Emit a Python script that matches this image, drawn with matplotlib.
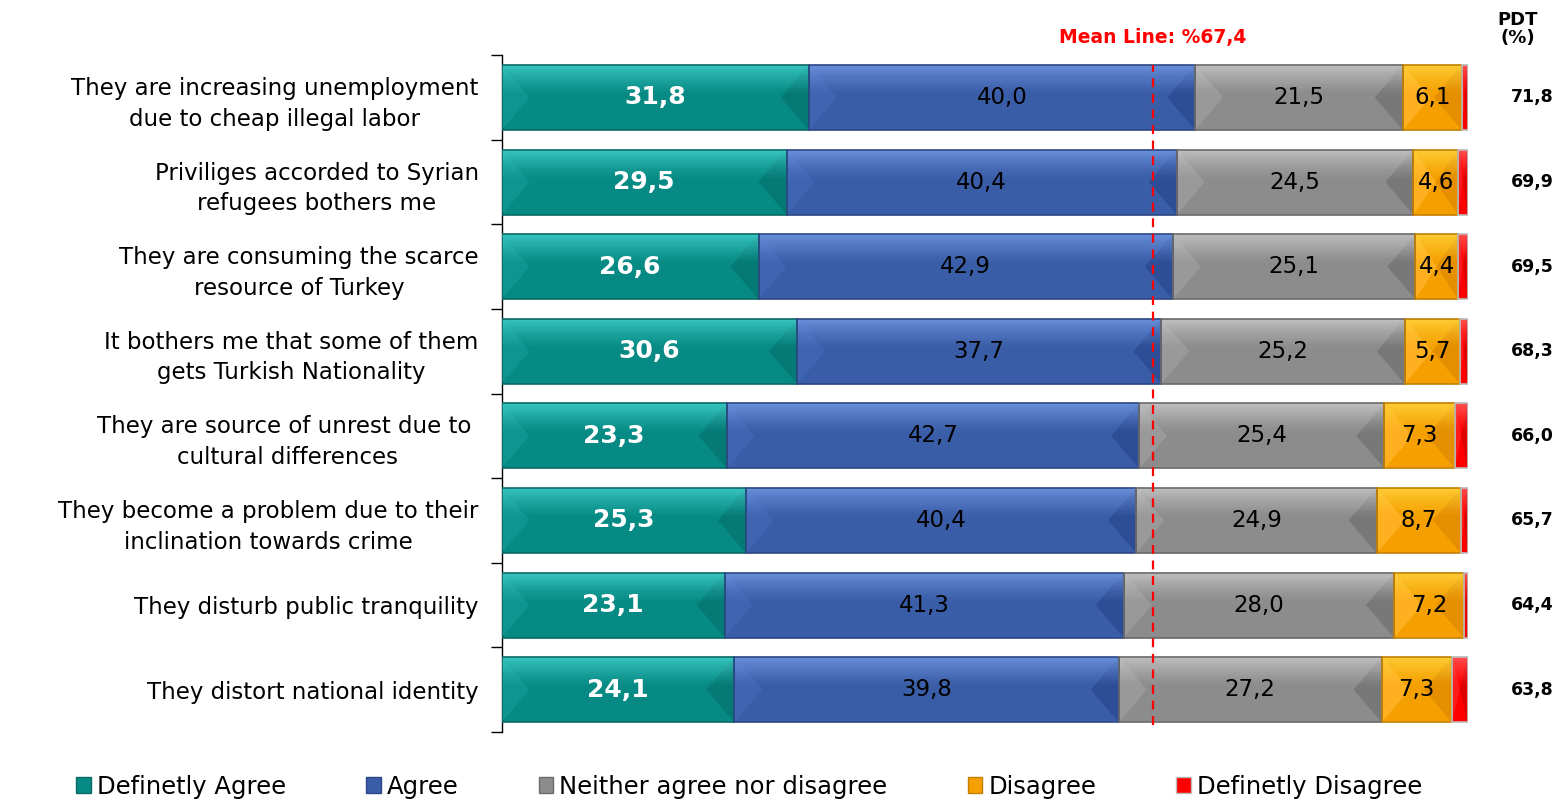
import numpy as np
import matplotlib.pyplot as plt
from matplotlib.patches import Polygon, Patch
from matplotlib.transforms import blended_transform_factory

statements = [
    "They are increasing unemployment\ndue to cheap illegal labor",
    "Priviliges accorded to Syrian\nrefugees bothers me",
    "They are consuming the scarce\nresource of Turkey",
    "It bothers me that some of them\ngets Turkish Nationality",
    "They are source of unrest due to \ncultural differences",
    "They become a problem due to their\ninclination towards crime",
    "They disturb public tranquility",
    "They distort national identity",
]
series_names = ["Definetly Agree", "Agree", "Neither agree nor disagree",
                "Disagree", "Definetly Disagree"]
definitely_agree = [31.8, 29.5, 26.6, 30.6, 23.3, 25.3, 23.1, 24.1]
agree = [40.0, 40.4, 42.9, 37.7, 42.7, 40.4, 41.3, 39.8]
neither = [21.5, 24.5, 25.1, 25.2, 25.4, 24.9, 28.0, 27.2]
disagree = [6.1, 4.6, 4.4, 5.7, 7.3, 8.7, 7.2, 7.3]
definitely_disagree = [0.6, 1.0, 1.0, 0.8, 1.3, 0.7, 0.4, 1.6]
pdt = [71.8, 69.9, 69.5, 68.3, 66.0, 65.7, 64.4, 63.8]
mean_line = 67.4

# main, top highlight, left bevel, right bevel, edge
styles = [
    ("#078A84", "#40CEC8", "#0E958F", "#057A75", "#0B6A66"),
    ("#3A5DA8", "#7096E2", "#3F64B2", "#2D4E96", "#2C4784"),
    ("#8C8C8C", "#C6C6C6", "#999999", "#787878", "#6A6A6A"),
    ("#F5A000", "#FFD33C", "#FFB020", "#E48E00", "#C27F00"),
    ("#FF0000", "#FF5A5A", "#FF1A1A", "#E00000", "#BBBBBB"),
]

data = np.array([definitely_agree, agree, neither, disagree, definitely_disagree])
y = np.arange(len(statements))
bar_h = 0.77

fig = plt.figure(figsize=(15.64, 8.02), dpi=100)
ax = fig.add_axes([0.3207, 0.0873, 0.6176, 0.8439])

lefts = np.zeros(len(statements))
for k, vals in enumerate(data):
    main, light, lcol, rcol, edge = styles[k]
    ax.barh(y, vals, left=lefts, height=bar_h, color=main, zorder=2)
    # bevel triangles on both ends
    for yi, l, w in zip(y, lefts, vals):
        d = min(2.9, w / 2)
        ax.add_patch(Polygon([(l, yi - bar_h / 2), (l, yi + bar_h / 2), (l + d, yi)],
                             closed=True, color=lcol, lw=0, zorder=3))
        ax.add_patch(Polygon([(l + w, yi - bar_h / 2), (l + w, yi + bar_h / 2), (l + w - d, yi)],
                             closed=True, color=rcol, lw=0, zorder=3))
    # soft highlight along the top edge
    n = 14
    strip = bar_h * 0.45 / n
    for s in range(n):
        ax.barh(y - bar_h / 2 + strip * (s + 0.5), vals, left=lefts, height=strip,
                color=light, alpha=0.85 * (1 - s / n) ** 1.3, lw=0, zorder=4)
    ax.barh(y, vals, left=lefts, height=bar_h, fill=False, edgecolor=edge, lw=1.2, zorder=5)
    if k < 4:
        for yi, l, w in zip(y, lefts, vals):
            txt = f"{w:.1f}".replace(".", ",")
            if k == 0:
                ax.text(l + w / 2, yi, txt, ha="center", va="center", color="white",
                        fontsize=18, fontweight="bold", zorder=7)
            else:
                ax.text(l + w / 2, yi, txt, ha="center", va="center", color="black",
                        fontsize=16.5, zorder=7)
    lefts = lefts + vals

ax.set_xlim(0, 100)
ax.set_ylim(len(statements) - 0.5, -0.5)

ax.axvline(mean_line, ymin=0.01, ymax=0.985, color="#FF0000", ls=(0, (4, 3)), lw=1.6, zorder=6)
trans = blended_transform_factory(ax.transData, fig.transFigure)
ax.text(mean_line, 1 - 37 / 802, "Mean Line: %" + f"{mean_line:.1f}".replace(".", ","),
        transform=trans, ha="center", va="center", color="#FF0000",
        fontsize=13.5, fontweight="bold", clip_on=False)

ax.set_yticks(y)
ax.set_yticklabels(statements, fontsize=16.5)
for t in ax.get_yticklabels():
    t.set_multialignment("center")
    t.set_linespacing(1.42)
ax.set_yticks(np.arange(-0.5, len(statements)), minor=True)
ax.tick_params(axis="y", which="major", length=0, pad=16.5)
ax.tick_params(axis="y", which="minor", length=8, width=1, direction="out")
ax.set_xticks([])
for side in ["top", "right", "bottom"]:
    ax.spines[side].set_visible(False)
ax.spines["left"].set_linewidth(1)

# PDT column
fig.text(1517.5 / 1564, 1 - 29 / 802, "PDT\n(%)", ha="center", va="center",
         fontsize=13, fontweight="bold", linespacing=1.05)
for yi, v in zip(y, pdt):
    ax.text(106.7, yi, f"{v:.1f}".replace(".", ","), ha="center", va="center",
            fontsize=12.5, fontweight="bold", clip_on=False)

handles = [Patch(facecolor=s[0], edgecolor=s[4], lw=1) for s in styles]
fig.legend(handles, series_names, loc="center", bbox_to_anchor=(0.479, 0.019), ncol=5,
           frameon=False, fontsize=17.5, handlelength=0.6, handleheight=0.6,
           handletextpad=0.25, columnspacing=3.3)

fig.savefig("out.png", dpi=100)
